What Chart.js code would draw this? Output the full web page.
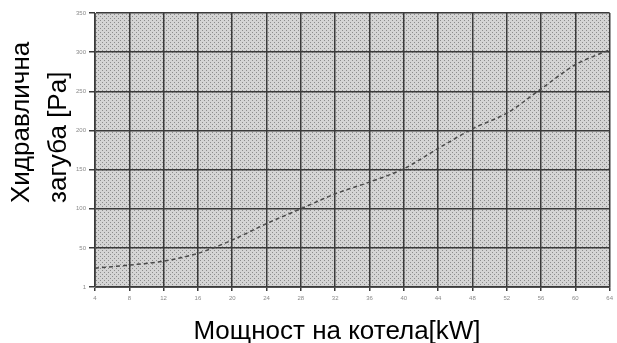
<!DOCTYPE html>
<html>
<head>
<meta charset="utf-8">
<script src="https://cdn.jsdelivr.net/npm/chart.js@4/dist/chart.umd.min.js"></script>
<style>
  body { margin: 0; background: #fff; }
  #wrap { width: 617px; height: 343px; }
</style>
</head>
<body>
<div id="wrap"><canvas id="lossChart"></canvas></div>
<script>
// boiler power [kW] vs hydraulic loss [Pa]
var powerKW = [4, 8, 12, 16, 20, 24, 28, 32, 36, 40, 44, 48, 52, 56, 60, 64];
var lossPa  = [24, 28, 33, 43, 60, 81, 100, 119, 134, 151, 177, 202, 222, 253, 284, 303];

var xTicks = [4, 8, 12, 16, 20, 24, 28, 32, 36, 40, 44, 48, 52, 56, 60, 64];
var yTicks = [0, 50, 100, 150, 200, 250, 300, 350];
var yTickLabels = ['1', '50', '100', '150', '200', '250', '300', '350'];

var yTitleLines = ['Хидравлична', 'загуба [Pa]'];
var xTitle = 'Мощност на котела[kW]';

// halftone-ish gray paper behind the plot
function makePattern(ctx) {
    var c = document.createElement('canvas');
    c.width = 4; c.height = 4;
    var p = c.getContext('2d');
    p.fillStyle = '#d4d4d4';
    p.fillRect(0, 0, 4, 4);
    p.fillStyle = '#8c8c8c';
    p.fillRect(0, 0, 1, 1);
    p.fillRect(2, 2, 1, 1);
    return ctx.createPattern(c, 'repeat');
}

var paperBg = {
    id: 'paperBg',
    beforeDraw: function (chart) {
        var a = chart.chartArea, ctx = chart.ctx;
        ctx.save();
        ctx.fillStyle = makePattern(ctx);
        ctx.fillRect(a.left, a.top, a.right - a.left, a.bottom - a.top);
        ctx.restore();
    }
};

var titles = {
    id: 'titles',
    afterDraw: function (chart) {
        var ctx = chart.ctx;
        ctx.save();
        ctx.fillStyle = '#000';
        ctx.font = '26px "Liberation Sans", Arial, sans-serif';
        ctx.textBaseline = 'alphabetic';
        ctx.textAlign = 'center';
        ctx.fillText(xTitle, 337, 339);

        ctx.translate(0, 203);
        ctx.rotate(-Math.PI / 2);
        ctx.textAlign = 'left';
        ctx.fillText(yTitleLines[0], 0, 29);
        ctx.fillText(yTitleLines[1], 0, 66);
        ctx.restore();
    }
};

var tickFont = { family: '"Liberation Sans", Arial, sans-serif', size: 6 };

new Chart(document.getElementById('lossChart'), {
    type: 'line',
    data: {
        datasets: [{
            data: powerKW.map(function (x, i) { return { x: x, y: lossPa[i] }; }),
            borderColor: '#4a4a4a',
            borderWidth: 1.5,
            borderDash: [4, 3],
            pointRadius: 0,
            tension: 0.3,
            fill: false
        }]
    },
    options: {
        responsive: true,
        maintainAspectRatio: false,
        animation: false,
        layout: { padding: { left: 0, right: 4, top: 13, bottom: 0 } },
        plugins: { legend: { display: false }, tooltip: { enabled: false } },
        scales: {
            x: {
                type: 'linear',
                min: 4,
                max: 64,
                afterBuildTicks: function (s) { s.ticks = xTicks.map(function (v) { return { value: v }; }); },
                afterFit: function (s) { s.height = 56; },
                ticks: { autoSkip: false, maxRotation: 0, color: '#8a8a8a', font: tickFont, padding: 4 },
                grid: { color: '#3a3a3a', lineWidth: 1.5, tickLength: 4 },
                border: { color: '#555', width: 1 }
            },
            y: {
                min: 0,
                max: 350,
                afterBuildTicks: function (s) { s.ticks = yTicks.map(function (v) { return { value: v }; }); },
                afterFit: function (s) { s.width = 95; },
                ticks: {
                    color: '#8a8a8a',
                    font: tickFont,
                    padding: 3,
                    callback: function (v) { var i = yTicks.indexOf(v); return i >= 0 ? yTickLabels[i] : ''; }
                },
                grid: { color: '#3a3a3a', lineWidth: 1.5, tickLength: 6 },
                border: { color: '#555', width: 1 }
            }
        }
    },
    plugins: [paperBg, titles]
});
</script>
</body>
</html>
